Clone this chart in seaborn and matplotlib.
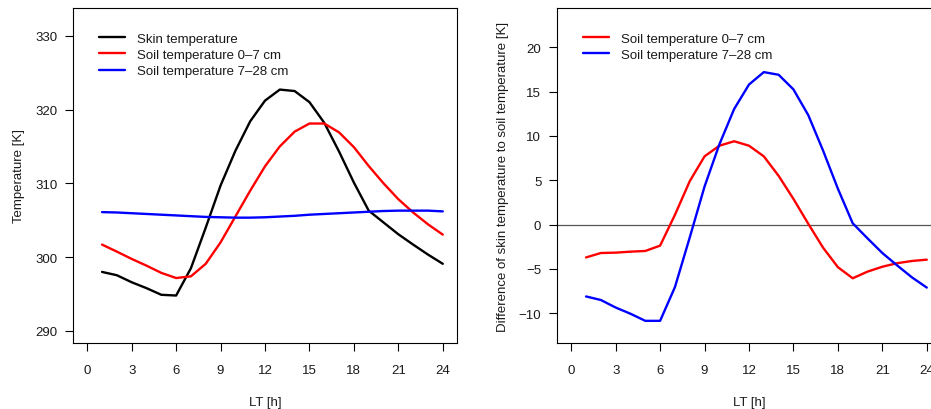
import numpy as np
import pandas as pd
import matplotlib
matplotlib.use("Agg")
import matplotlib.pyplot as plt
import seaborn as sns

# Mean diurnal cycle by local time
hours = list(range(1, 25))
skin_temp = [298.0, 297.55, 296.6, 295.8, 294.9, 294.8, 298.5, 304.0,
             309.7, 314.4, 318.4, 321.2, 322.7, 322.5, 321.0, 318.2,
             314.3, 310.1, 306.3, 304.7, 303.1, 301.7, 300.35, 299.1]
soil_0_7 = [301.7, 300.75, 299.76, 298.85, 297.87, 297.17, 297.4, 299.1,
            302.0, 305.5, 309.0, 312.3, 315.0, 317.0, 318.1, 318.1,
            316.9, 314.9, 312.35, 310.0, 307.85, 306.05, 304.45, 303.05]
soil_7_28 = [306.1, 306.05, 305.95, 305.85, 305.75, 305.65, 305.55, 305.45,
             305.4, 305.35, 305.35, 305.4, 305.5, 305.6, 305.75, 305.85,
             305.95, 306.05, 306.15, 306.25, 306.3, 306.3, 306.3, 306.2]

left_labels = ["Skin temperature", "Soil temperature 0\u20137 cm",
               "Soil temperature 7\u201328 cm"]
right_labels = ["Soil temperature 0\u20137 cm", "Soil temperature 7\u201328 cm"]
x_ticks = list(range(0, 25, 3))
left_yticks = [290, 300, 310, 320, 330]
right_yticks = [-10, -5, 0, 5, 10, 15, 20]

diff_0_7 = np.array(skin_temp) - np.array(soil_0_7)
diff_7_28 = np.array(skin_temp) - np.array(soil_7_28)

sns.set_theme(style="white")
plt.rcParams["font.family"] = ["Liberation Sans", "DejaVu Sans"]
plt.rcParams["axes.unicode_minus"] = True

FS = 9.5
TXT = "#1a1a1a"
LW = 1.7
W, H = 931, 410
fig = plt.figure(figsize=(W / 100, H / 100), dpi=100)


def px_axes(x0, x1, y0, y1):
    return fig.add_axes([x0 / W, 1 - y1 / H, (x1 - x0) / W, (y1 - y0) / H])


ax1 = px_axes(73, 457, 9, 344)
ax2 = px_axes(557, 941, 9, 344)

df_left = pd.DataFrame({"LT": hours * 3,
                        "T": skin_temp + soil_0_7 + soil_7_28,
                        "series": sum([[l] * 24 for l in left_labels], [])})
sns.lineplot(data=df_left, x="LT", y="T", hue="series",
             palette=["black", "red", "blue"], linewidth=LW, ax=ax1)

df_right = pd.DataFrame({"LT": hours * 2,
                         "dT": list(diff_0_7) + list(diff_7_28),
                         "series": sum([[l] * 24 for l in right_labels], [])})
ax2.axhline(0, color="#555555", linewidth=0.9, zorder=1)
sns.lineplot(data=df_right, x="LT", y="dT", hue="series",
             palette=["red", "blue"], linewidth=LW, ax=ax2)

ax1.set_ylim(288.37, 333.75)
ax2.set_ylim(-13.35, 24.43)

legend_left_px = {ax1: 99 - 73, ax2: 583 - 557}
for ax, yt in ((ax1, left_yticks), (ax2, right_yticks)):
    ax.set_xlim(-0.96, 24.96)
    ax.set_xticks(x_ticks)
    ax.set_yticks(yt)
    ax.set_yticklabels([str(v).replace("-", "\u2212") for v in yt])
    for s in ax.spines.values():
        s.set_color("black")
        s.set_linewidth(0.8)
    ax.tick_params(axis="both", which="major", direction="out", length=5.8,
                   width=0.8, color="black", labelsize=FS, labelcolor=TXT,
                   left=True, bottom=True)
    ax.tick_params(axis="x", pad=9.0)
    ax.tick_params(axis="y", pad=5.5)
    ax.set_xlabel("LT [h]", fontsize=FS, color=TXT, va="center")
    ax.xaxis.set_label_coords(0.5, -(403 - 344) / 335)
    leg = ax.legend(loc="upper left", frameon=False, fontsize=FS,
                    handlelength=2.0, handletextpad=0.85, labelspacing=0.3,
                    borderpad=0, borderaxespad=0,
                    bbox_to_anchor=(legend_left_px[ax] / 384, 1 - (33.5 - 9) / 335))
    for t in leg.get_texts():
        t.set_color(TXT)
    for l in leg.get_lines():
        l.set_linewidth(LW)

ax1.set_ylabel("Temperature [K]", fontsize=FS, color=TXT, va="center")
ax1.yaxis.set_label_coords((19 - 73) / 384, 0.5)
ax2.set_ylabel("Difference of skin temperature to soil temperature [K]",
               fontsize=FS, color=TXT, va="center")
ax2.yaxis.set_label_coords((503 - 557) / 384, 0.5)

fig.savefig("out.png", dpi=100)
